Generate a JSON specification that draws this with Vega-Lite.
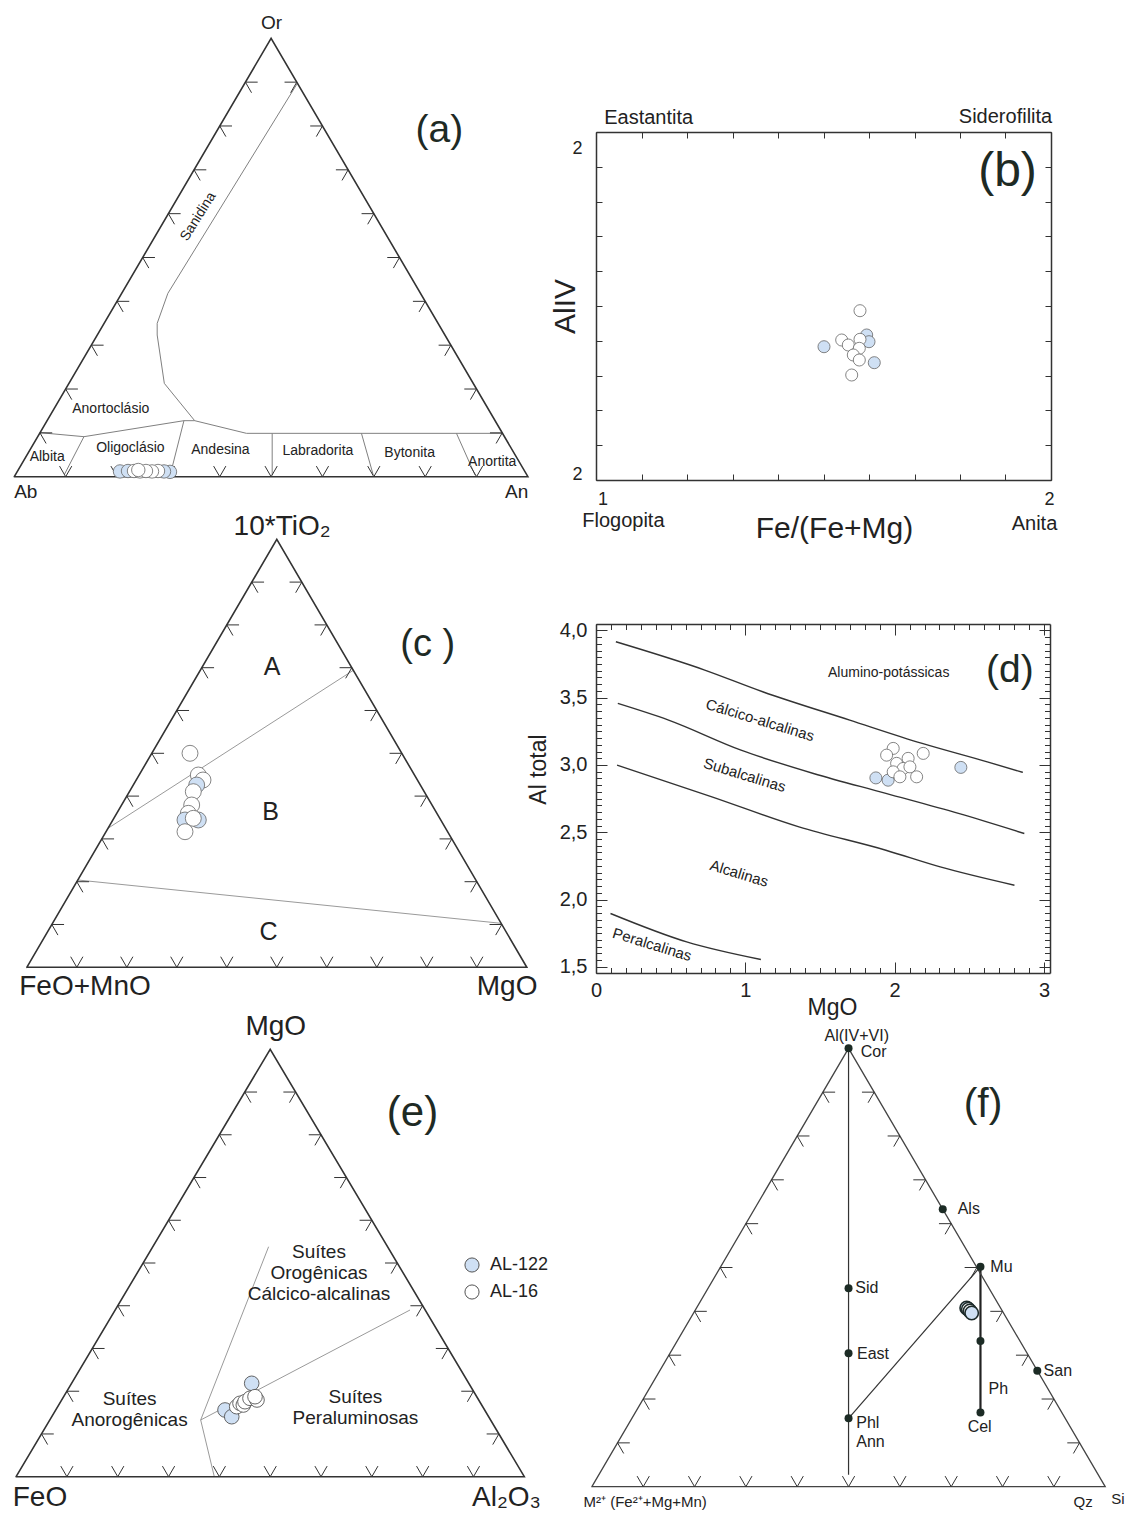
{
  "$schema": "https://vega.github.io/schema/vega-lite/v6.json",
  "background": "white",
  "padding": {"left": 0, "top": 14, "right": 0, "bottom": 0},
  "config": {
    "font": "Liberation Sans",
    "view": {"stroke": null},
    "axis": {"grid": false, "domainColor": "#333", "domainWidth": 1.5, "tickColor": "#333", "tickWidth": 1, "labelColor": "#222", "titleColor": "#222", "titleFontWeight": "normal", "labelFlush": false, "labelOverlap": false, "labelBound": false, "minExtent": 0},
    "legend": {"orient": "none", "legendX": 463, "legendY": 1124, "padding": 0, "symbolType": "circle", "symbolSize": 200, "symbolStrokeColor": "#555", "symbolStrokeWidth": 1, "labelFontSize": 18, "labelColor": "#222", "labelOffset": 9, "rowPadding": 7, "symbolOffset": 0}
  },
  "datasets": {
    "tri": [
      {"x": 0, "y": 0, "i": 0}, {"x": 1, "y": 0, "i": 1}, {"x": 0.5, "y": 1, "i": 2}, {"x": 0, "y": 0, "i": 3}
    ],
    "ticks": [
      {"x": 0.05, "y": 0.1, "edge": "left"}, {"x": 0.1, "y": 0.2, "edge": "left"}, {"x": 0.15, "y": 0.3, "edge": "left"},
      {"x": 0.2, "y": 0.4, "edge": "left"}, {"x": 0.25, "y": 0.5, "edge": "left"}, {"x": 0.3, "y": 0.6, "edge": "left"},
      {"x": 0.35, "y": 0.7, "edge": "left"}, {"x": 0.4, "y": 0.8, "edge": "left"}, {"x": 0.45, "y": 0.9, "edge": "left"},
      {"x": 0.95, "y": 0.1, "edge": "right"}, {"x": 0.9, "y": 0.2, "edge": "right"}, {"x": 0.85, "y": 0.3, "edge": "right"},
      {"x": 0.8, "y": 0.4, "edge": "right"}, {"x": 0.75, "y": 0.5, "edge": "right"}, {"x": 0.7, "y": 0.6, "edge": "right"},
      {"x": 0.65, "y": 0.7, "edge": "right"}, {"x": 0.6, "y": 0.8, "edge": "right"}, {"x": 0.55, "y": 0.9, "edge": "right"},
      {"x": 0.1, "y": 0, "edge": "base"}, {"x": 0.2, "y": 0, "edge": "base"}, {"x": 0.3, "y": 0, "edge": "base"},
      {"x": 0.4, "y": 0, "edge": "base"}, {"x": 0.5, "y": 0, "edge": "base"}, {"x": 0.6, "y": 0, "edge": "base"},
      {"x": 0.7, "y": 0, "edge": "base"}, {"x": 0.8, "y": 0, "edge": "base"}, {"x": 0.9, "y": 0, "edge": "base"}
    ]
  },
  "columns": 2,
  "spacing": {"row": 144, "column": 36},
  "bounds": "flush",
  "concat": [
    {
      "width": 560, "height": 348,
      "encoding": {
        "x": {"field": "x", "type": "quantitative", "axis": null, "scale": {"domain": [-0.02784, 1.0625], "nice": false, "zero": false}},
        "y": {"field": "y", "type": "quantitative", "axis": null, "scale": {"domain": [-0.00753, 0.78627], "nice": false, "zero": false}}
      },
      "layer": [
        {
          "data": {"values": [
            {"seg": 1, "i": 0, "x": 0.551, "y": 0.897}, {"seg": 1, "i": 1, "x": 0.299, "y": 0.4183},
            {"seg": 1, "i": 2, "x": 0.2782, "y": 0.3498}, {"seg": 1, "i": 3, "x": 0.2782, "y": 0.3232},
            {"seg": 1, "i": 4, "x": 0.2921, "y": 0.2129}, {"seg": 1, "i": 5, "x": 0.3512, "y": 0.1278},
            {"seg": 1, "i": 6, "x": 0.452, "y": 0.0989}, {"seg": 1, "i": 7, "x": 0.9506, "y": 0.0989},
            {"seg": 2, "i": 0, "x": 0.0502, "y": 0.1004}, {"seg": 2, "i": 1, "x": 0.1356, "y": 0.0913},
            {"seg": 2, "i": 2, "x": 0.3303, "y": 0.1278}, {"seg": 2, "i": 3, "x": 0.3512, "y": 0.1278},
            {"seg": 3, "i": 0, "x": 0.1356, "y": 0.0913}, {"seg": 3, "i": 1, "x": 0.098, "y": 0.006},
            {"seg": 4, "i": 0, "x": 0.3303, "y": 0.1278}, {"seg": 4, "i": 1, "x": 0.306, "y": 0.0152},
            {"seg": 5, "i": 0, "x": 0.5021, "y": 0.0989}, {"seg": 5, "i": 1, "x": 0.5021, "y": 0.0038},
            {"seg": 6, "i": 0, "x": 0.6759, "y": 0.0989}, {"seg": 6, "i": 1, "x": 0.6989, "y": 0.0038},
            {"seg": 7, "i": 0, "x": 0.8609, "y": 0.0989}, {"seg": 7, "i": 1, "x": 0.8971, "y": 0.0038}
          ]},
          "mark": {"type": "line", "color": "#808080", "strokeWidth": 1, "clip": false},
          "encoding": {"detail": {"field": "seg", "type": "nominal"}, "order": {"field": "i", "type": "quantitative"}}
        },
        {
          "data": {"name": "tri"},
          "mark": {"type": "line", "color": "#333", "strokeWidth": 1.6, "strokeCap": "round", "clip": false},
          "encoding": {"order": {"field": "i", "type": "quantitative"}}
        },
        {
          "data": {"name": "ticks"},
          "mark": {"type": "point", "filled": false, "size": 150, "color": "#333", "strokeWidth": 1, "opacity": 1, "clip": false},
          "encoding": {"shape": {"field": "edge", "type": "nominal", "legend": null, "scale": {"domain": ["left", "right", "base"], "range": ["M2,0L0,0L1,1.732", "M-2,0L0,0L-1,1.732", "M-1,-1.732L0,0L1,-1.732"]}}}
        },
        {
          "data": {"values": [
            {"x": 0.1878, "y": 0.1536, "label": "Anortoclásio"}, {"x": 0.064, "y": 0.0456, "label": "Albita"},
            {"x": 0.226, "y": 0.0646, "label": "Oligoclásio"}, {"x": 0.4013, "y": 0.0608, "label": "Andesina"},
            {"x": 0.5911, "y": 0.0593, "label": "Labradorita"}, {"x": 0.7698, "y": 0.0532, "label": "Bytonita"},
            {"x": 0.9305, "y": 0.0342, "label": "Anortita"}
          ]},
          "mark": {"type": "text", "fontSize": 14, "color": "#222", "clip": false},
          "encoding": {"text": {"field": "label", "type": "nominal"}}
        },
        {
          "data": {"values": [{"x": 0.3581, "y": 0.5932, "label": "Sanidina"}]},
          "mark": {"type": "text", "fontSize": 14, "angle": -58, "color": "#222", "clip": false},
          "encoding": {"text": {"field": "label", "type": "nominal"}}
        },
        {
          "data": {"values": [
            {"x": 0.5007, "y": 1.0342, "label": "Or"}, {"x": 0.0223, "y": -0.0342, "label": "Ab"}, {"x": 0.978, "y": -0.0342, "label": "An"}
          ]},
          "mark": {"type": "text", "fontSize": 19, "color": "#222", "clip": false},
          "encoding": {"text": {"field": "label", "type": "nominal"}}
        },
        {
          "data": {"values": [{"x": 0.8275, "y": 0.7909, "label": "(a)"}]},
          "mark": {"type": "text", "fontSize": 39, "color": "#1e2a24", "clip": false},
          "encoding": {"text": {"field": "label", "type": "nominal"}}
        },
        {
          "data": {"values": [
            {"x": 0.2058, "y": 0.012, "sample": "AL-122"}, {"x": 0.2214, "y": 0.013, "sample": "AL-122"},
            {"x": 0.3031, "y": 0.011, "sample": "AL-122"}, {"x": 0.2915, "y": 0.012, "sample": "AL-122"},
            {"x": 0.2798, "y": 0.013, "sample": "AL-16"}, {"x": 0.2681, "y": 0.012, "sample": "AL-16"},
            {"x": 0.2331, "y": 0.013, "sample": "AL-16"}, {"x": 0.2447, "y": 0.012, "sample": "AL-16"},
            {"x": 0.2564, "y": 0.013, "sample": "AL-16"}, {"x": 0.2414, "y": 0.0153, "sample": "AL-16"}
          ]},
          "mark": {"type": "circle", "size": 180, "stroke": "#666", "strokeWidth": 0.8, "opacity": 1, "clip": false},
          "encoding": {"fill": {"field": "sample", "type": "nominal", "title": null, "scale": {"domain": ["AL-122", "AL-16"], "range": ["#cfe0f4", "#ffffff"]}}}
        }
      ]
    },
    {
      "width": 455, "height": 348,
      "resolve": {"axis": {"x": "independent", "y": "independent"}},
      "layer": [
        {
          "data": {"values": [
            {"x": 1.5011, "y": 0.383, "sample": "AL-122"}, {"x": 1.5949, "y": 0.4167, "sample": "AL-122"},
            {"x": 1.6, "y": 0.3974, "sample": "AL-122"}, {"x": 1.6116, "y": 0.3371, "sample": "AL-122"},
            {"x": 1.5802, "y": 0.4865, "sample": "AL-16"}, {"x": 1.54, "y": 0.4023, "sample": "AL-16"},
            {"x": 1.5545, "y": 0.3879, "sample": "AL-16"}, {"x": 1.5802, "y": 0.4043, "sample": "AL-16"},
            {"x": 1.5787, "y": 0.3784, "sample": "AL-16"}, {"x": 1.5655, "y": 0.3592, "sample": "AL-16"},
            {"x": 1.5787, "y": 0.3448, "sample": "AL-16"}, {"x": 1.562, "y": 0.3017, "sample": "AL-16"}
          ]},
          "mark": {"type": "circle", "size": 145, "stroke": "#666", "strokeWidth": 0.8, "opacity": 1, "clip": false},
          "encoding": {
            "x": {"field": "x", "type": "quantitative", "scale": {"domain": [1, 2], "nice": false, "zero": false},
                  "axis": {"orient": "bottom", "values": [1.0143, 1.9956], "labelExpr": "datum.value < 1.5 ? '1' : '2'", "ticks": false, "domain": true, "labelPadding": 10, "labelFontSize": 18, "title": "Fe/(Fe+Mg)", "titleFontSize": 30, "titlePadding": 5, "titleX": 238}},
            "y": {"field": "y", "type": "quantitative", "scale": {"domain": [0, 1], "nice": false, "zero": false},
                  "axis": {"orient": "left", "values": [0.0144, 0.954], "labelExpr": "'2'", "ticks": false, "domain": true, "labelPadding": 14, "labelFontSize": 18, "title": null}},
            "fill": {"field": "sample", "type": "nominal", "title": null, "scale": {"domain": ["AL-122", "AL-16"], "range": ["#cfe0f4", "#ffffff"]}}
          }
        },
        {
          "data": {"values": [{"x": 1.1158, "y": 1.0394, "label": "Eastantita"}, {"x": 1.9, "y": 1.044, "label": "Siderofilita"}]},
          "mark": {"type": "text", "fontSize": 20, "color": "#222", "clip": false},
          "encoding": {
            "x": {"field": "x", "type": "quantitative", "scale": {"domain": [1, 2], "nice": false, "zero": false},
                  "axis": {"orient": "bottom", "values": [1, 1.1, 1.2, 1.3, 1.4, 1.5, 1.6, 1.7, 1.8, 1.9, 2], "tickSize": -6, "labels": false, "domain": false, "title": null}},
            "y": {"field": "y", "type": "quantitative", "scale": {"domain": [0, 1], "nice": false, "zero": false},
                  "axis": {"orient": "left", "values": [0, 0.1, 0.2, 0.3, 0.4, 0.5, 0.6, 0.7, 0.8, 0.9, 1], "tickSize": -6, "labels": false, "domain": false, "title": "AlIV", "titleFontSize": 30, "titlePadding": 15}},
            "text": {"field": "label", "type": "nominal"}
          }
        },
        {
          "data": {"values": [{"x": 1.0602, "y": -0.117, "label": "Flogopita"}, {"x": 1.9637, "y": -0.1264, "label": "Anita"}]},
          "mark": {"type": "text", "fontSize": 20, "color": "#222", "clip": false},
          "encoding": {
            "x": {"field": "x", "type": "quantitative", "scale": {"domain": [1, 2], "nice": false, "zero": false},
                  "axis": {"orient": "top", "values": [1, 1.1, 1.2, 1.3, 1.4, 1.5, 1.6, 1.7, 1.8, 1.9, 2], "tickSize": -6, "labels": false, "domain": true, "title": null}},
            "y": {"field": "y", "type": "quantitative", "scale": {"domain": [0, 1], "nice": false, "zero": false},
                  "axis": {"orient": "right", "values": [0, 0.1, 0.2, 0.3, 0.4, 0.5, 0.6, 0.7, 0.8, 0.9, 1], "tickSize": -6, "labels": false, "domain": true, "title": null}},
            "text": {"field": "label", "type": "nominal"}
          }
        },
        {
          "data": {"values": [{"x": 1.9044, "y": 0.886, "label": "(b)"}]},
          "mark": {"type": "text", "fontSize": 48, "color": "#1e2a24", "clip": false},
          "encoding": {
            "x": {"field": "x", "type": "quantitative", "scale": {"domain": [1, 2], "nice": false, "zero": false}, "axis": null},
            "y": {"field": "y", "type": "quantitative", "scale": {"domain": [0, 1], "nice": false, "zero": false}, "axis": null},
            "text": {"field": "label", "type": "nominal"}
          }
        }
      ]
    },
    {
      "width": 560, "height": 349,
      "encoding": {
        "x": {"field": "x", "type": "quantitative", "axis": null, "scale": {"domain": [-0.0536, 1.0664], "nice": false, "zero": false}},
        "y": {"field": "y", "type": "quantitative", "axis": null, "scale": {"domain": [-0.01332, 0.8021], "nice": false, "zero": false}}
      },
      "layer": [
        {
          "data": {"values": [
            {"seg": 1, "i": 0, "x": 0.1624, "y": 0.3248}, {"seg": 1, "i": 1, "x": 0.653, "y": 0.6939},
            {"seg": 2, "i": 0, "x": 0.102, "y": 0.204}, {"seg": 2, "i": 1, "x": 0.9486, "y": 0.1028}
          ]},
          "mark": {"type": "line", "color": "#9a9a9a", "strokeWidth": 1, "clip": false},
          "encoding": {"detail": {"field": "seg", "type": "nominal"}, "order": {"field": "i", "type": "quantitative"}}
        },
        {
          "data": {"name": "tri"},
          "mark": {"type": "line", "color": "#333", "strokeWidth": 1.6, "strokeCap": "round", "clip": false},
          "encoding": {"order": {"field": "i", "type": "quantitative"}}
        },
        {
          "data": {"name": "ticks"},
          "mark": {"type": "point", "filled": false, "size": 150, "color": "#333", "strokeWidth": 1, "opacity": 1, "clip": false},
          "encoding": {"shape": {"field": "edge", "type": "nominal", "legend": null, "scale": {"domain": ["left", "right", "base"], "range": ["M2,0L0,0L1,1.732", "M-2,0L0,0L-1,1.732", "M-1,-1.732L0,0L1,-1.732"]}}}
        },
        {
          "data": {"values": [
            {"x": 0.4906, "y": 0.7023, "label": "A"}, {"x": 0.4878, "y": 0.3636, "label": "B"}, {"x": 0.4836, "y": 0.0832, "label": "C"}
          ]},
          "mark": {"type": "text", "fontSize": 25, "color": "#222", "clip": false},
          "encoding": {"text": {"field": "label", "type": "nominal"}}
        },
        {
          "data": {"values": [
            {"x": 0.5106, "y": 1.0294, "label": "10*TiO₂"}, {"x": 0.1164, "y": -0.0453, "label": "FeO+MnO"}, {"x": 0.9606, "y": -0.0453, "label": "MgO"}
          ]},
          "mark": {"type": "text", "fontSize": 28, "color": "#222", "clip": false},
          "encoding": {"text": {"field": "label", "type": "nominal"}}
        },
        {
          "data": {"values": [{"x": 0.802, "y": 0.753, "label": "(c )"}]},
          "mark": {"type": "text", "fontSize": 38, "color": "#1e2a24", "clip": false},
          "encoding": {"text": {"field": "label", "type": "nominal"}}
        },
        {
          "data": {"values": [
            {"x": 0.3264, "y": 0.5, "sample": "AL-16"}, {"x": 0.343, "y": 0.4493, "sample": "AL-16"},
            {"x": 0.3524, "y": 0.4376, "sample": "AL-16"}, {"x": 0.3398, "y": 0.4259, "sample": "AL-122"},
            {"x": 0.333, "y": 0.4103, "sample": "AL-16"}, {"x": 0.3298, "y": 0.3792, "sample": "AL-16"},
            {"x": 0.323, "y": 0.3598, "sample": "AL-16"}, {"x": 0.3164, "y": 0.3442, "sample": "AL-122"},
            {"x": 0.343, "y": 0.3442, "sample": "AL-122"}, {"x": 0.333, "y": 0.3481, "sample": "AL-16"},
            {"x": 0.3164, "y": 0.3168, "sample": "AL-16"}
          ]},
          "mark": {"type": "circle", "size": 254, "stroke": "#666", "strokeWidth": 0.8, "opacity": 1, "clip": false},
          "encoding": {"fill": {"field": "sample", "type": "nominal", "title": null, "scale": {"domain": ["AL-122", "AL-16"], "range": ["#cfe0f4", "#ffffff"]}}}
        }
      ]
    },
    {
      "width": 454, "height": 349,
      "resolve": {"axis": {"x": "independent", "y": "independent"}},
      "layer": [
        {
          "data": {"values": [
            {"x": 1.874, "y": 2.904, "sample": "AL-122"}, {"x": 1.956, "y": 2.887, "sample": "AL-122"},
            {"x": 2.443, "y": 2.982, "sample": "AL-122"},
            {"x": 1.99, "y": 3.123, "sample": "AL-16"}, {"x": 1.946, "y": 3.073, "sample": "AL-16"},
            {"x": 2.191, "y": 3.086, "sample": "AL-16"}, {"x": 2.09, "y": 3.049, "sample": "AL-16"},
            {"x": 2.013, "y": 3.012, "sample": "AL-16"}, {"x": 2.057, "y": 2.974, "sample": "AL-16"},
            {"x": 1.99, "y": 2.949, "sample": "AL-16"}, {"x": 2.102, "y": 2.986, "sample": "AL-16"},
            {"x": 2.147, "y": 2.912, "sample": "AL-16"}, {"x": 2.035, "y": 2.912, "sample": "AL-16"}
          ]},
          "mark": {"type": "circle", "size": 145, "stroke": "#666", "strokeWidth": 0.8, "opacity": 1, "clip": false},
          "encoding": {
            "x": {"field": "x", "type": "quantitative", "scale": {"domain": [0, 3.04], "nice": false, "zero": false},
                  "axis": {"orient": "bottom", "values": [0, 1, 2, 3], "ticks": false, "domain": true, "labelPadding": 7, "labelFontSize": 20, "title": null}},
            "y": {"field": "y", "type": "quantitative", "scale": {"domain": [1.455, 4.047], "nice": false, "zero": false},
                  "axis": {"orient": "left", "values": [1.5, 2, 2.5, 3, 3.5, 4], "labelExpr": "replace(format(datum.value, '.1f'), '.', ',')", "ticks": false, "domain": true, "labelPadding": 9, "labelFontSize": 20, "title": null}},
            "fill": {"field": "sample", "type": "nominal", "title": null, "scale": {"domain": ["AL-122", "AL-16"], "range": ["#cfe0f4", "#ffffff"]}}
          }
        },
        {
          "data": {"values": [
            {"seg": "c1", "i": 0, "x": 0.133, "y": 3.915}, {"seg": "c1", "i": 1, "x": 0.728, "y": 3.705},
            {"seg": "c1", "i": 2, "x": 1.116, "y": 3.544}, {"seg": "c1", "i": 3, "x": 1.699, "y": 3.333},
            {"seg": "c1", "i": 4, "x": 2.184, "y": 3.16}, {"seg": "c1", "i": 5, "x": 2.62, "y": 3.023},
            {"seg": "c1", "i": 6, "x": 2.858, "y": 2.945},
            {"seg": "c2", "i": 0, "x": 0.146, "y": 3.457}, {"seg": "c2", "i": 1, "x": 0.486, "y": 3.333},
            {"seg": "c2", "i": 2, "x": 0.971, "y": 3.11}, {"seg": "c2", "i": 3, "x": 1.456, "y": 2.937},
            {"seg": "c2", "i": 4, "x": 1.941, "y": 2.789}, {"seg": "c2", "i": 5, "x": 2.427, "y": 2.64},
            {"seg": "c2", "i": 6, "x": 2.868, "y": 2.491},
            {"seg": "c3", "i": 0, "x": 0.141, "y": 2.999}, {"seg": "c3", "i": 1, "x": 0.776, "y": 2.763},
            {"seg": "c3", "i": 2, "x": 1.359, "y": 2.54}, {"seg": "c3", "i": 3, "x": 1.941, "y": 2.367},
            {"seg": "c3", "i": 4, "x": 2.305, "y": 2.243}, {"seg": "c3", "i": 5, "x": 2.802, "y": 2.107},
            {"seg": "c4", "i": 0, "x": 0.097, "y": 1.897}, {"seg": "c4", "i": 1, "x": 0.607, "y": 1.686},
            {"seg": "c4", "i": 2, "x": 1.104, "y": 1.555}
          ]},
          "mark": {"type": "line", "color": "#333", "strokeWidth": 1.4, "interpolate": "monotone", "clip": false},
          "encoding": {
            "x": {"field": "x", "type": "quantitative", "scale": {"domain": [0, 3.04], "nice": false, "zero": false},
                  "axis": {"orient": "bottom", "values": [0, 1, 2, 3], "tickSize": -11, "labels": false, "domain": false, "title": "MgO", "titleFontSize": 23, "titlePadding": 23, "titleX": 236}},
            "y": {"field": "y", "type": "quantitative", "scale": {"domain": [1.455, 4.047], "nice": false, "zero": false},
                  "axis": {"orient": "left", "values": [1.5, 2, 2.5, 3, 3.5, 4], "tickSize": -11, "labels": false, "domain": false, "title": "Al total", "titleFontSize": 23, "titlePadding": 45, "titleY": 145}},
            "detail": {"field": "seg", "type": "nominal"},
            "order": {"field": "i", "type": "quantitative"}
          }
        },
        {
          "data": {"values": [
            {"x": 1.099, "y": 3.333, "label": "Cálcico-alcalinas"}, {"x": 0.995, "y": 2.925, "label": "Subalcalinas"},
            {"x": 0.958, "y": 2.194, "label": "Alcalinas"}, {"x": 0.376, "y": 1.666, "label": "Peralcalinas"}
          ]},
          "mark": {"type": "text", "fontSize": 15, "angle": 17, "color": "#222", "clip": false},
          "encoding": {
            "x": {"field": "x", "type": "quantitative", "scale": {"domain": [0, 3.04], "nice": false, "zero": false},
                  "axis": {"orient": "bottom", "values": [0, 0.1, 0.2, 0.3, 0.4, 0.5, 0.6, 0.7, 0.8, 0.9, 1, 1.1, 1.2, 1.3, 1.4, 1.5, 1.6, 1.7, 1.8, 1.9, 2, 2.1, 2.2, 2.3, 2.4, 2.5, 2.6, 2.7, 2.8, 2.9, 3], "tickSize": -5.5, "labels": false, "domain": false, "title": null}},
            "y": {"field": "y", "type": "quantitative", "scale": {"domain": [1.455, 4.047], "nice": false, "zero": false},
                  "axis": {"orient": "left", "values": [1.5, 1.55, 1.6, 1.65, 1.7, 1.75, 1.8, 1.85, 1.9, 1.95, 2, 2.05, 2.1, 2.15, 2.2, 2.25, 2.3, 2.35, 2.4, 2.45, 2.5, 2.55, 2.6, 2.65, 2.7, 2.75, 2.8, 2.85, 2.9, 2.95, 3, 3.05, 3.1, 3.15, 3.2, 3.25, 3.3, 3.35, 3.4, 3.45, 3.5, 3.55, 3.6, 3.65, 3.7, 3.75, 3.8, 3.85, 3.9, 3.95, 4], "tickSize": -5.5, "labels": false, "domain": false, "title": null}},
            "text": {"field": "label", "type": "nominal"}
          }
        },
        {
          "data": {"values": [{"x": 1.96, "y": 3.68, "label": "Alumino-potássicas"}]},
          "mark": {"type": "text", "fontSize": 14, "color": "#222", "clip": false},
          "encoding": {
            "x": {"field": "x", "type": "quantitative", "scale": {"domain": [0, 3.04], "nice": false, "zero": false},
                  "axis": {"orient": "top", "values": [0, 1, 2, 3], "tickSize": -11, "labels": false, "domain": true, "title": null}},
            "y": {"field": "y", "type": "quantitative", "scale": {"domain": [1.455, 4.047], "nice": false, "zero": false},
                  "axis": {"orient": "right", "values": [1.5, 2, 2.5, 3, 3.5, 4], "tickSize": -11, "labels": false, "domain": true, "title": null}},
            "text": {"field": "label", "type": "nominal"}
          }
        },
        {
          "data": {"values": [{"x": 2.771, "y": 3.705, "label": "(d)"}]},
          "mark": {"type": "text", "fontSize": 39, "color": "#1e2a24", "clip": false},
          "encoding": {
            "x": {"field": "x", "type": "quantitative", "scale": {"domain": [0, 3.04], "nice": false, "zero": false},
                  "axis": {"orient": "top", "values": [0, 0.1, 0.2, 0.3, 0.4, 0.5, 0.6, 0.7, 0.8, 0.9, 1, 1.1, 1.2, 1.3, 1.4, 1.5, 1.6, 1.7, 1.8, 1.9, 2, 2.1, 2.2, 2.3, 2.4, 2.5, 2.6, 2.7, 2.8, 2.9, 3], "tickSize": -5.5, "labels": false, "domain": false, "title": null}},
            "y": {"field": "y", "type": "quantitative", "scale": {"domain": [1.455, 4.047], "nice": false, "zero": false},
                  "axis": {"orient": "right", "values": [1.5, 1.55, 1.6, 1.65, 1.7, 1.75, 1.8, 1.85, 1.9, 1.95, 2, 2.05, 2.1, 2.15, 2.2, 2.25, 2.3, 2.35, 2.4, 2.45, 2.5, 2.55, 2.6, 2.65, 2.7, 2.75, 2.8, 2.85, 2.9, 2.95, 3, 3.05, 3.1, 3.15, 3.2, 3.25, 3.3, 3.35, 3.4, 3.45, 3.5, 3.55, 3.6, 3.65, 3.7, 3.75, 3.8, 3.85, 3.9, 3.95, 4], "tickSize": -5.5, "labels": false, "domain": false, "title": null}},
            "text": {"field": "label", "type": "nominal"}
          }
        }
      ]
    },
    {
      "width": 560, "height": 360,
      "encoding": {
        "x": {"field": "x", "type": "quantitative", "axis": null, "scale": {"domain": [-0.03168, 1.07025], "nice": false, "zero": false}},
        "y": {"field": "y", "type": "quantitative", "axis": null, "scale": {"domain": [-0.0007, 0.8416], "nice": false, "zero": false}}
      },
      "layer": [
        {
          "data": {"values": [
            {"seg": 1, "i": 0, "x": 0.4969, "y": 0.5381}, {"seg": 1, "i": 1, "x": 0.3632, "y": 0.1327},
            {"seg": 2, "i": 0, "x": 0.3632, "y": 0.1327}, {"seg": 2, "i": 1, "x": 0.7751, "y": 0.39},
            {"seg": 3, "i": 0, "x": 0.3632, "y": 0.1327}, {"seg": 3, "i": 1, "x": 0.39, "y": 0.0}
          ]},
          "mark": {"type": "line", "color": "#9a9a9a", "strokeWidth": 1, "clip": false},
          "encoding": {"detail": {"field": "seg", "type": "nominal"}, "order": {"field": "i", "type": "quantitative"}}
        },
        {
          "data": {"name": "tri"},
          "mark": {"type": "line", "color": "#333", "strokeWidth": 1.6, "strokeCap": "round", "clip": false},
          "encoding": {"order": {"field": "i", "type": "quantitative"}}
        },
        {
          "data": {"name": "ticks"},
          "mark": {"type": "point", "filled": false, "size": 150, "color": "#333", "strokeWidth": 1, "opacity": 1, "clip": false},
          "encoding": {"shape": {"field": "edge", "type": "nominal", "legend": null, "scale": {"domain": ["left", "right", "base"], "range": ["M2,0L0,0L1,1.732", "M-2,0L0,0L-1,1.732", "M-1,-1.732L0,0L1,-1.732"]}}}
        },
        {
          "data": {"values": [
            {"x": 0.596, "y": 0.5264, "label": "Suítes\nOrogênicas\nCálcico-alcalinas"},
            {"x": 0.2233, "y": 0.1811, "label": "Suítes\nAnorogênicas"},
            {"x": 0.6677, "y": 0.1872, "label": "Suítes\nPeraluminosas"}
          ]},
          "mark": {"type": "text", "fontSize": 19, "lineBreak": "\n", "lineHeight": 21, "color": "#222", "clip": false},
          "encoding": {"text": {"field": "label", "type": "nominal"}}
        },
        {
          "data": {"values": [
            {"x": 0.511, "y": 1.053, "label": "MgO"}, {"x": 0.047, "y": -0.0506, "label": "FeO"}, {"x": 0.965, "y": -0.0506, "label": "Al₂O₃"}
          ]},
          "mark": {"type": "text", "fontSize": 28, "color": "#222", "clip": false},
          "encoding": {"text": {"field": "label", "type": "nominal"}}
        },
        {
          "data": {"values": [{"x": 0.78, "y": 0.85, "label": "(e)"}]},
          "mark": {"type": "text", "fontSize": 42, "color": "#1e2a24", "clip": false},
          "encoding": {"text": {"field": "label", "type": "nominal"}}
        },
        {
          "data": {"values": [
            {"x": 0.4111, "y": 0.1561, "sample": "AL-122"}, {"x": 0.4243, "y": 0.1404, "sample": "AL-122"},
            {"x": 0.4636, "y": 0.2185, "sample": "AL-122"},
            {"x": 0.4341, "y": 0.1638, "sample": "AL-16"}, {"x": 0.4406, "y": 0.1717, "sample": "AL-16"},
            {"x": 0.4471, "y": 0.1678, "sample": "AL-16"}, {"x": 0.4504, "y": 0.1755, "sample": "AL-16"},
            {"x": 0.4602, "y": 0.1834, "sample": "AL-16"}, {"x": 0.474, "y": 0.1795, "sample": "AL-16"},
            {"x": 0.4701, "y": 0.1872, "sample": "AL-16"}
          ]},
          "mark": {"type": "circle", "size": 214, "stroke": "#555", "strokeWidth": 0.9, "opacity": 1, "clip": false},
          "encoding": {"fill": {"field": "sample", "type": "nominal", "title": null, "scale": {"domain": ["AL-122", "AL-16"], "range": ["#cfe0f4", "#ffffff"]}}}
        }
      ]
    },
    {
      "width": 500, "height": 360,
      "encoding": {
        "x": {"field": "x", "type": "quantitative", "axis": null, "scale": {"domain": [0.00799, 0.98208], "nice": false, "zero": false}},
        "y": {"field": "y", "type": "quantitative", "axis": null, "scale": {"domain": [0.02213, 0.8433], "nice": false, "zero": false}}
      },
      "layer": [
        {
          "data": {"values": [
            {"seg": "a", "i": 0, "x": 0.5, "y": 1}, {"seg": "a", "i": 1, "x": 0.5, "y": 0.027},
            {"seg": "b", "i": 0, "x": 0.5, "y": 0.156}, {"seg": "b", "i": 1, "x": 0.757, "y": 0.502}
          ]},
          "mark": {"type": "line", "color": "#333", "strokeWidth": 1.2, "clip": false},
          "encoding": {"detail": {"field": "seg", "type": "nominal"}, "order": {"field": "i", "type": "quantitative"}}
        },
        {
          "data": {"values": [
            {"seg": "c", "i": 0, "x": 0.757, "y": 0.502}, {"seg": "c", "i": 1, "x": 0.757, "y": 0.169}
          ]},
          "mark": {"type": "line", "color": "#222", "strokeWidth": 2.2, "clip": false},
          "encoding": {"order": {"field": "i", "type": "quantitative"}}
        },
        {
          "data": {"name": "tri"},
          "mark": {"type": "line", "color": "#444", "strokeWidth": 1.3, "strokeCap": "round", "clip": false},
          "encoding": {"order": {"field": "i", "type": "quantitative"}}
        },
        {
          "data": {"name": "ticks"},
          "mark": {"type": "point", "filled": false, "size": 150, "color": "#333", "strokeWidth": 1, "opacity": 1, "clip": false},
          "encoding": {"shape": {"field": "edge", "type": "nominal", "legend": null, "scale": {"domain": ["left", "right", "base"], "range": ["M2,0L0,0L1,1.732", "M-2,0L0,0L-1,1.732", "M-1,-1.732L0,0L1,-1.732"]}}}
        },
        {
          "data": {"values": [
            {"x": 0.5, "y": 1, "label": "Cor"}, {"x": 0.6835, "y": 0.633, "label": "Als"}, {"x": 0.757, "y": 0.502, "label": "Mu"},
            {"x": 0.5, "y": 0.4525, "label": "Sid"}, {"x": 0.5, "y": 0.3042, "label": "East"}, {"x": 0.5, "y": 0.156, "label": "Phl"},
            {"x": 0.8677, "y": 0.2646, "label": "San"}, {"x": 0.757, "y": 0.3324, "label": "Ph"}, {"x": 0.757, "y": 0.169, "label": "Cel"}
          ]},
          "mark": {"type": "circle", "size": 64, "color": "#1c2b25", "opacity": 1, "clip": false}
        },
        {
          "data": {"values": [
            {"x": 0.5237, "y": 0.9922, "label": "Cor"}, {"x": 0.7126, "y": 0.6328, "label": "Als"}, {"x": 0.7762, "y": 0.5018, "label": "Mu"},
            {"x": 0.513, "y": 0.4526, "label": "Sid"}, {"x": 0.5165, "y": 0.302, "label": "East"}, {"x": 0.5151, "y": 0.146, "label": "Phl"},
            {"x": 0.5151, "y": 0.1026, "label": "Ann"}, {"x": 0.88, "y": 0.2646, "label": "San"}, {"x": 0.7727, "y": 0.2229, "label": "Ph"},
            {"x": 0.732, "y": 0.1369, "label": "Cel"}
          ]},
          "mark": {"type": "text", "fontSize": 16, "align": "left", "color": "#222", "clip": false},
          "encoding": {"text": {"field": "label", "type": "nominal"}}
        },
        {
          "data": {"values": [{"x": 0.516, "y": 1.029, "label": "Al(IV+VI)"}]},
          "mark": {"type": "text", "fontSize": 16, "color": "#222", "clip": false},
          "encoding": {"text": {"field": "label", "type": "nominal"}}
        },
        {
          "data": {"values": [
            {"x": -0.0164, "y": -0.0342, "label": "M²⁺ (Fe²⁺+Mg+Mn)"}, {"x": 0.9384, "y": -0.0342, "label": "Qz"}, {"x": 1.0119, "y": -0.0287, "label": "Si"}
          ]},
          "mark": {"type": "text", "fontSize": 15, "align": "left", "color": "#222", "clip": false},
          "encoding": {"text": {"field": "label", "type": "nominal"}}
        },
        {
          "data": {"values": [{"x": 0.762, "y": 0.871, "label": "(f)"}]},
          "mark": {"type": "text", "fontSize": 41, "color": "#1e2a24", "clip": false},
          "encoding": {"text": {"field": "label", "type": "nominal"}}
        },
        {
          "data": {"values": [
            {"x": 0.7302, "y": 0.4076, "sample": "AL-122"}, {"x": 0.7333, "y": 0.4047, "sample": "AL-16"},
            {"x": 0.7366, "y": 0.4008, "sample": "AL-16"}, {"x": 0.7399, "y": 0.3962, "sample": "AL-122"}
          ]},
          "mark": {"type": "circle", "size": 180, "stroke": "#1d2b2b", "strokeWidth": 1.6, "opacity": 1, "clip": false},
          "encoding": {"fill": {"field": "sample", "type": "nominal", "title": null, "scale": {"domain": ["AL-122", "AL-16"], "range": ["#cfe0f4", "#ffffff"]}}}
        }
      ]
    }
  ]
}
